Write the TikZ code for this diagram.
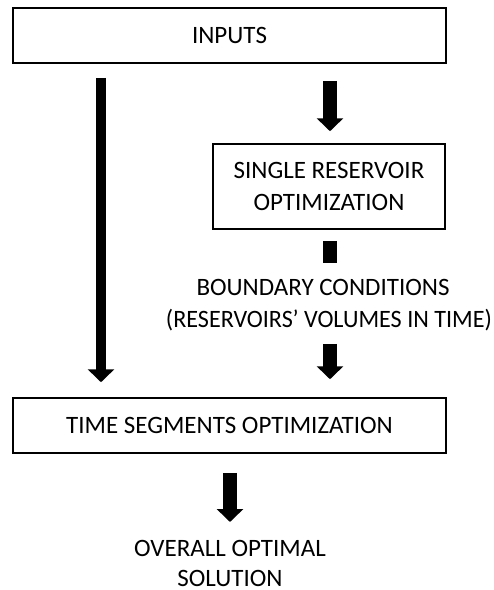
\documentclass[tikz,border=0pt]{standalone}
\usepackage{fontspec}
\usepackage{graphicx}
\setmainfont{Carlito}
\usetikzlibrary{arrows.meta}
\begin{document}
\begin{tikzpicture}[x=1pt,y=-1pt,
  box/.style={draw, line width=1.5pt, inner sep=0pt, align=center, font=\fontsize{25}{32}\selectfont},
  lbl/.style={inner sep=0pt, align=center, font=\fontsize{25}{32}\selectfont},
  lbltwo/.style={inner sep=0pt, align=center, font=\fontsize{25}{30}\selectfont},
  bigarrow/.style={line width=14pt, -{Triangle[length=13pt,width=26pt]}},
  thinarrow/.style={line width=10pt, -{Triangle[length=13pt,width=26pt]}},
  shaft/.style={line width=14pt}]
\useasboundingbox (0,0) rectangle (494,590);
\node[box, minimum width=433pt, minimum height=55pt] (inputs) at (229.5,35.5) {INPUTS};
\node[box, minimum width=232pt, minimum height=85pt] (sro) at (329,186.5) {SINGLE RESERVOIR\\OPTIMIZATION};
\node[lbl] (bc) at (329,305) {BOUNDARY CONDITIONS\hspace*{12pt}\\\scalebox{0.965}[1]{(RESERVOIRS’ VOLUMES IN TIME)}};
\node[box, minimum width=433pt, minimum height=55pt] (time) at (229.5,425.5) {TIME SEGMENTS OPTIMIZATION};
\node[lbltwo] (ov) at (230,563) {OVERALL OPTIMAL\\SOLUTION};
\coordinate (lx) at (101,0);
\coordinate (rx) at (330,0);
\draw[thinarrow, shorten <=14pt, shorten >=15pt] (inputs.south -| lx) -- (time.north -| lx);
\draw[bigarrow, shorten <=17pt, shorten >=12pt] (inputs.south -| rx) -- (sro.north -| rx);
\draw[shaft, shorten <=11pt, shorten >=42pt] (sro.south -| rx) -- (bc.center -| rx);
\draw[bigarrow, shorten <=114pt, shorten >=18pt] (sro.south -| rx) -- (time.north -| rx);
\draw[bigarrow, shorten <=19pt, shorten >=41pt] (time.south -| ov) -- (ov.center);
\end{tikzpicture}
\end{document}
